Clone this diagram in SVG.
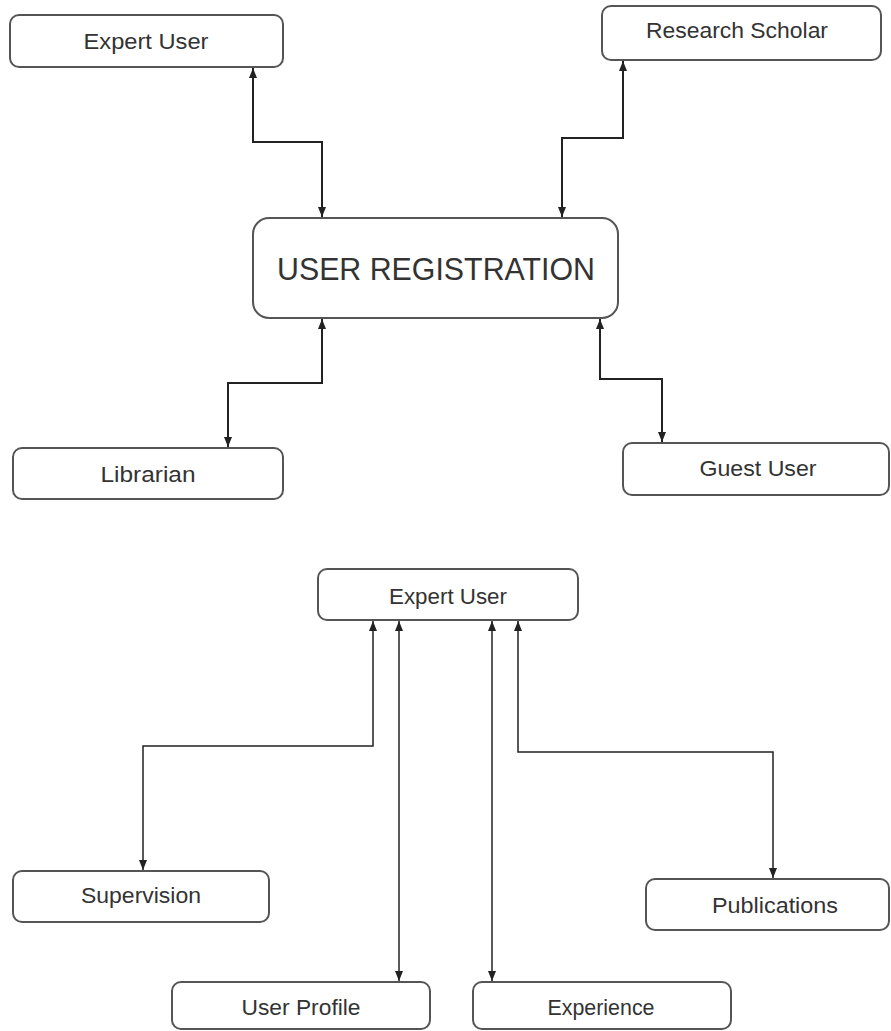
<svg xmlns="http://www.w3.org/2000/svg" width="891" height="1031" viewBox="0 0 891 1031">
<style>
.box{fill:#fff;stroke:#555;stroke-width:2}
.lbl{font-family:"Liberation Sans",Arial,sans-serif;font-size:22px;fill:#333;text-anchor:middle}
.big{font-size:31px}
.con{fill:none;stroke:#222;stroke-width:2}
.thin{stroke-width:1.5}
</style>
<defs>
<marker id="ah" viewBox="0 0 10 10" refX="10" refY="5" markerWidth="10" markerHeight="10" markerUnits="userSpaceOnUse" orient="auto-start-reverse">
<path d="M0,1 L10,5 L0,9 Z" fill="#222"/>
</marker>
</defs>
<g id="connectors">
<path class="con" d="M253,68 V142 H322 V217" marker-start="url(#ah)" marker-end="url(#ah)"/>
<path class="con" d="M623,61 V138 H562 V217" marker-start="url(#ah)" marker-end="url(#ah)"/>
<path class="con" d="M322,319 V383 H228 V447" marker-start="url(#ah)" marker-end="url(#ah)"/>
<path class="con" d="M600,319 V379 H662 V442" marker-start="url(#ah)" marker-end="url(#ah)"/>
<path class="con thin" d="M373,621 V746 H143 V870" marker-start="url(#ah)" marker-end="url(#ah)"/>
<path class="con thin" d="M399,621 V981" marker-start="url(#ah)" marker-end="url(#ah)"/>
<path class="con thin" d="M492,621 V981" marker-start="url(#ah)" marker-end="url(#ah)"/>
<path class="con thin" d="M518,621 V752 H773 V878" marker-start="url(#ah)" marker-end="url(#ah)"/>
</g>
<g id="expert-user-top"><rect class="box" x="10" y="15" width="273" height="52" rx="9"/><text class="lbl" x="146" y="49" textLength="125" lengthAdjust="spacingAndGlyphs">Expert User</text></g>
<g id="research-scholar"><rect class="box" x="602" y="6" width="279" height="54" rx="9"/><text class="lbl" x="737" y="38" textLength="182" lengthAdjust="spacingAndGlyphs">Research Scholar</text></g>
<g id="user-registration"><rect class="box" x="253" y="218" width="365" height="100" rx="16"/><text class="lbl big" x="436" y="280" textLength="318" lengthAdjust="spacingAndGlyphs">USER REGISTRATION</text></g>
<g id="librarian"><rect class="box" x="13" y="448" width="270" height="51" rx="9"/><text class="lbl" x="148" y="482" textLength="95" lengthAdjust="spacingAndGlyphs">Librarian</text></g>
<g id="guest-user"><rect class="box" x="623" y="443" width="266" height="52" rx="9"/><text class="lbl" x="758" y="476" textLength="117" lengthAdjust="spacingAndGlyphs">Guest User</text></g>
<g id="expert-user"><rect class="box" x="318" y="569" width="260" height="51" rx="9"/><text class="lbl" x="448" y="604" textLength="118" lengthAdjust="spacingAndGlyphs">Expert User</text></g>
<g id="supervision"><rect class="box" x="13" y="871" width="256" height="51" rx="9"/><text class="lbl" x="141" y="903" textLength="120" lengthAdjust="spacingAndGlyphs">Supervision</text></g>
<g id="publications"><rect class="box" x="646" y="879" width="243" height="51" rx="9"/><text class="lbl" x="775" y="913" textLength="126" lengthAdjust="spacingAndGlyphs">Publications</text></g>
<g id="user-profile"><rect class="box" x="172" y="982" width="258" height="47" rx="9"/><text class="lbl" x="301" y="1015" textLength="119" lengthAdjust="spacingAndGlyphs">User Profile</text></g>
<g id="experience"><rect class="box" x="473" y="982" width="258" height="47" rx="9"/><text class="lbl" x="601" y="1015" textLength="107" lengthAdjust="spacingAndGlyphs">Experience</text></g>
</svg>
